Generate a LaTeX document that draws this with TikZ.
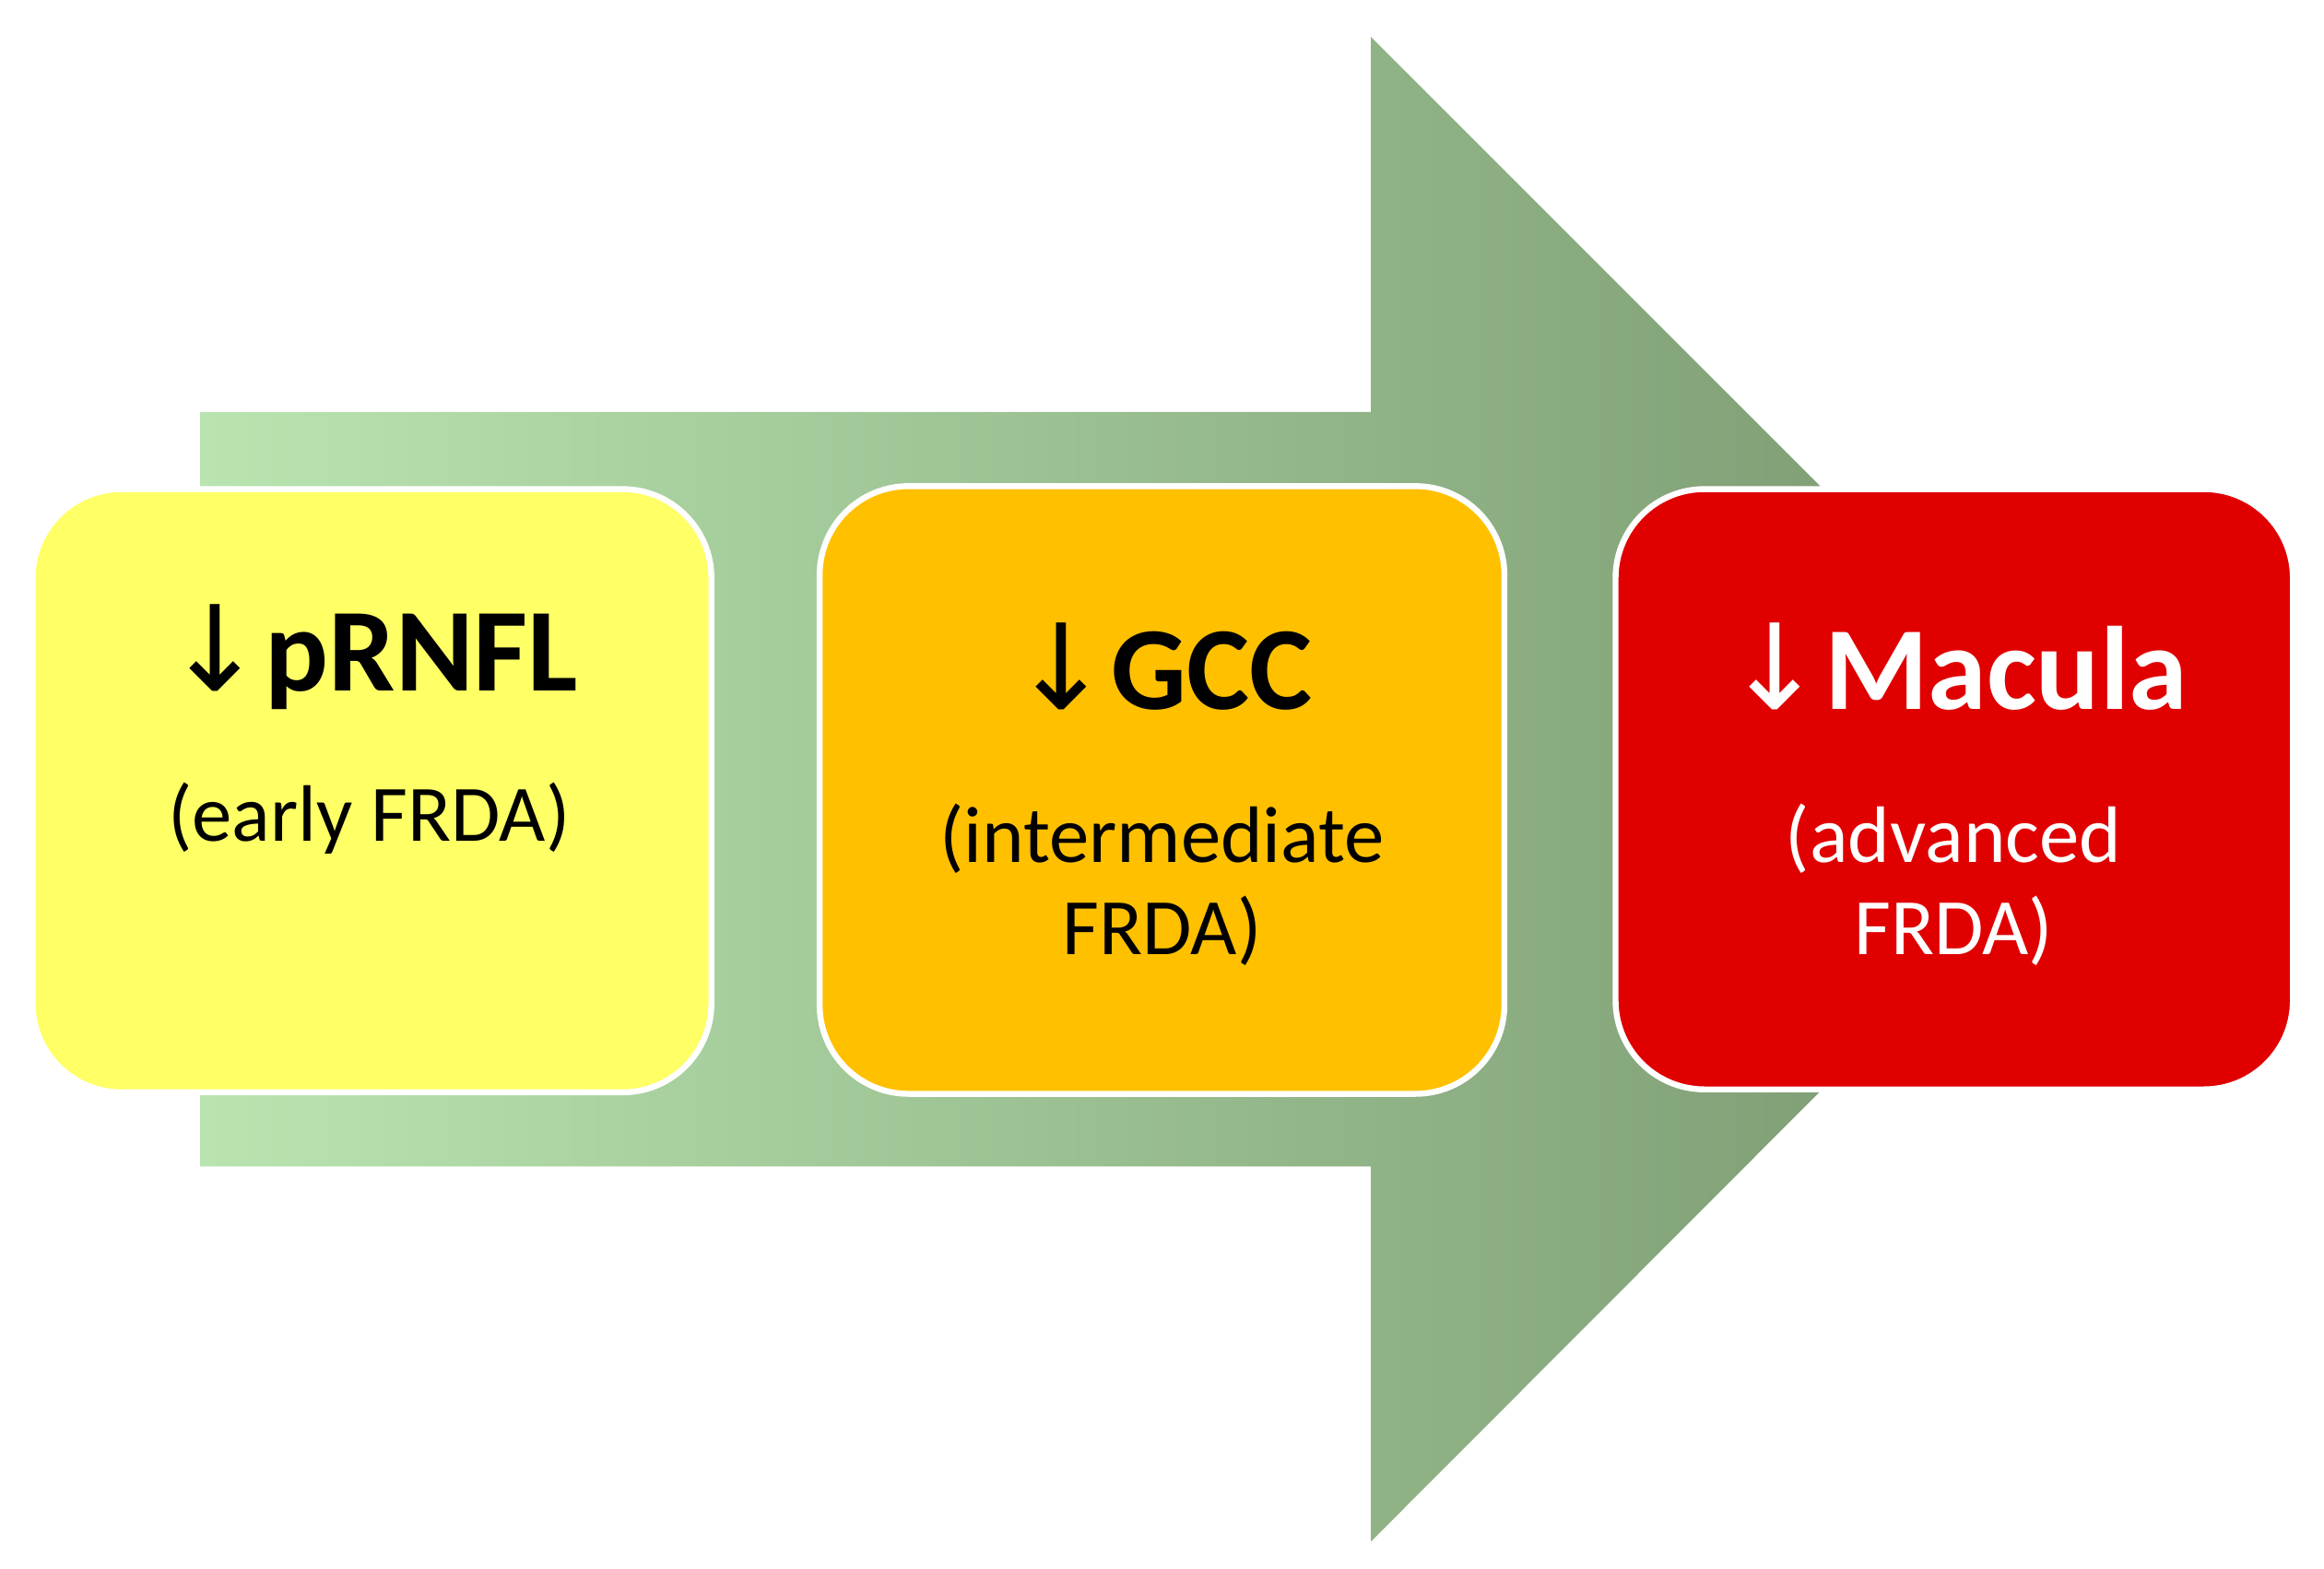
\documentclass[tikz,border=0pt]{standalone}
\usepackage{fontspec}
\setmainfont{Carlito}
\newfontfamily\arrowfont{DejaVu Sans}
\definecolor{gl}{RGB}{185,228,176}
\definecolor{gd}{RGB}{118,148,108}
\definecolor{cy}{RGB}{255,255,102}
\definecolor{co}{RGB}{255,192,0}
\definecolor{cr}{RGB}{224,0,0}
\begin{document}
\begin{tikzpicture}[x=0.5pt,y=-0.5pt,
  stagebox/.style={draw=white,line width=2pt,rounded corners=30pt},
  ttl/.style={font=\fontsize{40}{44}\selectfont\bfseries},
  sub/.style={font=\fontsize{27}{31}\selectfont,align=center}]
\useasboundingbox (0,0) rectangle (1568,1058);
\shade[left color=gl,right color=gd,shading angle=90]
  (135,278) -- (925,278) -- (925,25) -- (1432,532) -- (925,1040) -- (925,787) -- (135,787) -- cycle;
\path[stagebox,fill=cy] (22,330) rectangle (480,737);
\path[stagebox,fill=co] (553,328) rectangle (1015,738);
\path[stagebox,fill=cr] (1090,330) rectangle (1547,735);
\node[ttl] (t1) at (251,443) {{\arrowfont\mdseries↓}pRNFL};
\node[sub] (s1) at (249,552) {(early FRDA)};
\node[ttl] (t2) at (784,450) {{\arrowfont\mdseries↓}GCC};
\node[sub] (s2) at (784,597) {(intermediate\\FRDA)};
\node[ttl,text=white] (t3) at (1320,450) {{\arrowfont\mdseries↓}Macula};
\node[sub,text=white] (s3) at (1318,597) {(advanced\\FRDA)};
\end{tikzpicture}
\end{document}
